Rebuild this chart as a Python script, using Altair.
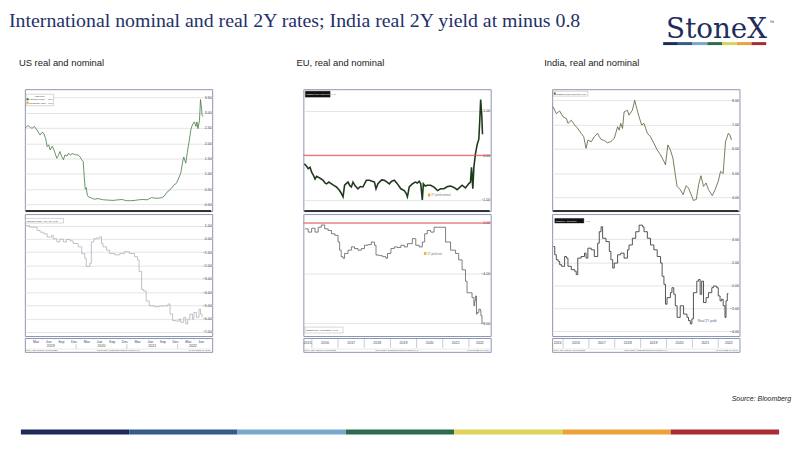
import altair as alt
import pandas as pd

# ---------------- text ----------------
TITLE = "International nominal and real 2Y rates; India real 2Y yield at minus 0.8"
COL_TITLES = ["US real and nominal", "EU, real and nominal", "India, real and nominal"]
SOURCE = "Source: Bloomberg"
LOGO = "StoneX"
BAR_SEGS = ["s1", "s2", "s3", "s4", "s5", "s6", "s7"]
BAR_COLORS = ["#1f2a5c", "#345b8a", "#78a8c9", "#2b6b4f", "#dcd35a", "#eaa33a", "#a82c34"]

# ---------------- US (decimal years) ----------------
US_NOM_T = [2019.00, 2019.05, 2019.10, 2019.13, 2019.18, 2019.23, 2019.29, 2019.33, 2019.36, 2019.40,
            2019.43, 2019.46, 2019.49, 2019.53, 2019.55, 2019.58, 2019.62, 2019.65, 2019.68, 2019.72,
            2019.75, 2019.78, 2019.82, 2019.85, 2019.89, 2019.92, 2019.95, 2019.99,
            2020.04, 2020.08, 2020.11, 2020.14, 2020.16, 2020.18, 2020.20, 2020.22, 2020.24, 2020.30,
            2020.36, 2020.43, 2020.54, 2020.63, 2020.73, 2020.83, 2020.90,
            2021.00, 2021.07, 2021.15, 2021.23, 2021.32, 2021.40, 2021.48, 2021.53, 2021.60, 2021.69,
            2021.74, 2021.79, 2021.83, 2021.88, 2021.93, 2021.97, 2021.99,
            2022.03, 2022.06, 2022.10, 2022.12, 2022.16, 2022.19, 2022.23, 2022.26, 2022.29, 2022.33,
            2022.36, 2022.38, 2022.40, 2022.43, 2022.45, 2022.47, 2022.48, 2022.50]
US_NOM_V = [2.50, 2.58, 2.52, 2.49, 2.55, 2.43, 2.27, 2.36, 2.33, 2.15,
            1.89, 1.95, 1.78, 1.90, 1.84, 1.70, 1.51, 1.60, 1.73, 1.55,
            1.46, 1.62, 1.58, 1.67, 1.62, 1.66, 1.65, 1.62,
            1.62, 1.55, 1.46, 1.40, 0.90, 0.50, 0.55, 0.30, 0.25, 0.21,
            0.17, 0.19, 0.15, 0.14, 0.13, 0.15, 0.16,
            0.12, 0.12, 0.13, 0.15, 0.16, 0.15, 0.22, 0.21, 0.20, 0.22,
            0.28, 0.40, 0.45, 0.53, 0.64, 0.68, 0.74,
            0.90, 1.02, 1.40, 1.55, 1.35, 1.70, 2.10, 2.45, 2.60, 2.70,
            2.55, 2.70, 2.48, 2.75, 3.43, 3.15, 2.92, 2.87]
US_REAL_T = [2019.00, 2019.08, 2019.23, 2019.29, 2019.36, 2019.43, 2019.49, 2019.52, 2019.55, 2019.62,
             2019.68, 2019.75, 2019.81, 2019.88, 2019.94,
             2020.04, 2020.11, 2020.17, 2020.20, 2020.27, 2020.30, 2020.35, 2020.40, 2020.47, 2020.50,
             2020.53, 2020.60, 2020.66, 2020.76, 2020.86, 2020.95,
             2021.05, 2021.15, 2021.21, 2021.24, 2021.29, 2021.33, 2021.38, 2021.44, 2021.54, 2021.64,
             2021.73, 2021.81, 2021.85, 2021.90, 2021.96,
             2022.03, 2022.06, 2022.12, 2022.16, 2022.20, 2022.24, 2022.29, 2022.32, 2022.37, 2022.42,
             2022.45, 2022.48]
US_REAL_V = [1.00, 0.88, 0.63, 0.50, 0.38, 0.14, 0.14, 0.26, 0.01, -0.23,
             -0.03, -0.23, -0.05, -0.15, -0.35,
             -0.60, -1.10, -1.46, -2.08, -1.83, -0.23, 0.01, 0.06, 0.14, -0.35,
             -0.60, -0.85, -1.10, -1.20, -1.10, -0.97,
             -1.10, -1.34, -1.60, -2.45, -3.80, -3.92, -4.67, -5.03, -5.10, -5.05,
             -5.03, -4.90, -5.65, -6.14, -6.18,
             -6.02, -6.27, -5.90, -6.40, -6.03, -5.66, -6.03, -5.54, -5.90, -5.28,
             -5.66, -5.90]

# ---------------- EU ----------------
EU_NOM_T = [2015.71, 2015.79, 2015.86, 2015.93, 2015.99, 2016.06, 2016.12, 2016.18, 2016.24, 2016.33,
            2016.43, 2016.50, 2016.56, 2016.65, 2016.75, 2016.85, 2016.94, 2017.00, 2017.06, 2017.12,
            2017.19, 2017.25, 2017.32, 2017.38, 2017.45, 2017.51, 2017.57, 2017.66, 2017.76, 2017.85,
            2017.95, 2018.08, 2018.20, 2018.30, 2018.39, 2018.45, 2018.52, 2018.58, 2018.67, 2018.77,
            2018.87, 2018.96, 2019.05, 2019.15, 2019.27, 2019.40, 2019.53, 2019.60, 2019.65, 2019.72,
            2019.84, 2019.95, 2020.03, 2020.10, 2020.16, 2020.22, 2020.26, 2020.33, 2020.41, 2020.54,
            2020.68, 2020.80, 2020.92, 2021.05, 2021.18, 2021.30, 2021.43, 2021.55, 2021.65, 2021.74,
            2021.87, 2021.99, 2022.06, 2022.10, 2022.15, 2022.19, 2022.25, 2022.32, 2022.38, 2022.42,
            2022.45, 2022.49, 2022.52]
EU_NOM_V = [-0.19, -0.24, -0.30, -0.27, -0.38, -0.45, -0.53, -0.47, -0.49, -0.52,
            -0.56, -0.62, -0.64, -0.60, -0.64, -0.68, -0.71, -0.75, -0.79, -0.85,
            -0.93, -0.67, -0.63, -0.60, -0.68, -0.71, -0.60, -0.69, -0.75, -0.70,
            -0.71, -0.56, -0.56, -0.58, -0.60, -0.75, -0.64, -0.60, -0.55, -0.56,
            -0.60, -0.64, -0.58, -0.56, -0.64, -0.75, -0.79, -0.85, -0.93, -0.71,
            -0.64, -0.60, -0.62, -0.58, -0.64, -1.00, -0.64, -0.69, -0.67, -0.67,
            -0.72, -0.79, -0.75, -0.75, -0.70, -0.69, -0.72, -0.77, -0.72, -0.67,
            -0.73, -0.64, -0.60, -0.27, -0.75, -0.27, 0.03, 0.25, 0.36, 0.84,
            1.25, 0.92, 0.47]
EU_REAL_T = [2015.74, 2015.86, 2015.99, 2016.12, 2016.24, 2016.36, 2016.49, 2016.62, 2016.75, 2016.88,
             2017.00, 2017.06, 2017.12, 2017.19, 2017.25, 2017.38, 2017.51, 2017.63, 2017.76, 2017.89,
             2018.01, 2018.14, 2018.27, 2018.39, 2018.45, 2018.58, 2018.70, 2018.83, 2018.89, 2019.02,
             2019.15, 2019.27, 2019.40, 2019.53, 2019.65, 2019.84, 2019.97, 2020.10, 2020.22, 2020.31,
             2020.41, 2020.54, 2020.67, 2020.80, 2021.05, 2021.11, 2021.30, 2021.49, 2021.61, 2021.74,
             2021.87, 2021.93, 2022.06, 2022.12, 2022.19, 2022.22, 2022.25, 2022.29, 2022.32, 2022.38,
             2022.44, 2022.46, 2022.50]
EU_REAL_V = [-0.47, -0.73, -0.42, -0.73, -0.34, -0.16, -0.47, -0.60, -0.86, -0.99,
             -1.52, -2.17, -2.69, -2.82, -2.43, -2.17, -1.91, -2.04, -2.17, -2.04,
             -1.78, -1.73, -1.52, -1.78, -2.56, -2.61, -2.69, -2.82, -2.43, -2.04,
             -1.91, -1.96, -1.78, -1.91, -1.65, -1.25, -1.78, -1.91, -1.52, -0.86,
             -0.60, -0.73, -0.34, -0.34, -0.34, -1.52, -2.17, -2.43, -2.95, -3.74,
             -4.65, -5.57, -5.57, -5.96, -6.61, -6.22, -5.83, -7.27, -7.14, -6.88,
             -7.01, -7.40, -8.05]

# ---------------- India ----------------
IN_NOM_T = [2015.62, 2015.74, 2015.87, 2016.00, 2016.13, 2016.19, 2016.32, 2016.45, 2016.57, 2016.70,
            2016.80, 2016.89, 2016.96, 2017.09, 2017.21, 2017.34, 2017.40, 2017.47, 2017.60, 2017.72,
            2017.85, 2017.98, 2018.11, 2018.17, 2018.23, 2018.30, 2018.36, 2018.49, 2018.55, 2018.68,
            2018.77, 2018.85, 2018.94, 2019.04, 2019.13, 2019.26, 2019.38, 2019.51, 2019.64, 2019.77,
            2019.90, 2019.96, 2020.05, 2020.15, 2020.25, 2020.34, 2020.41, 2020.53, 2020.64, 2020.76,
            2020.85, 2020.98, 2021.04, 2021.15, 2021.24, 2021.33, 2021.43, 2021.53, 2021.62, 2021.77,
            2021.88, 2022.00, 2022.09, 2022.19, 2022.28, 2022.39, 2022.45, 2022.51]
IN_NOM_V = [7.73, 7.45, 7.56, 7.32, 7.25, 7.05, 7.18, 6.98, 6.84, 6.64,
            6.50, 6.02, 6.36, 6.29, 6.50, 6.64, 6.50, 6.39, 6.34, 6.25,
            6.30, 6.43, 6.91, 6.77, 7.05, 6.84, 7.52, 7.59, 7.39, 7.59,
            8.00, 7.66, 7.32, 6.98, 7.05, 6.64, 6.50, 6.23, 5.95, 5.75,
            5.48, 5.34, 6.16, 5.95, 5.61, 4.93, 4.45, 4.32, 4.11, 4.48,
            4.38, 4.04, 3.87, 3.91, 4.52, 4.89, 4.45, 4.59, 4.32, 4.07,
            4.32, 4.66, 5.07, 4.98, 6.29, 6.64, 6.57, 6.36]
IN_REAL_T = [2015.62, 2015.68, 2015.74, 2015.81, 2015.87, 2015.94, 2016.06, 2016.13, 2016.19, 2016.32,
             2016.45, 2016.51, 2016.57, 2016.70, 2016.83, 2016.89, 2016.96, 2017.09, 2017.21, 2017.34,
             2017.40, 2017.47, 2017.53, 2017.66, 2017.79, 2017.85, 2017.92, 2017.98, 2018.11, 2018.23,
             2018.36, 2018.49, 2018.55, 2018.68, 2018.81, 2018.94, 2019.07, 2019.13, 2019.26, 2019.38,
             2019.51, 2019.64, 2019.77, 2019.83, 2019.90, 2019.96, 2020.02, 2020.15, 2020.21, 2020.28,
             2020.34, 2020.41, 2020.53, 2020.66, 2020.79, 2020.85, 2020.92, 2020.98, 2021.04, 2021.17,
             2021.24, 2021.30, 2021.36, 2021.43, 2021.53, 2021.62, 2021.75, 2021.81, 2021.94, 2022.00,
             2022.07, 2022.13, 2022.19, 2022.26, 2022.30, 2022.35, 2022.39]
IN_REAL_V = [3.37, 2.66, 2.23, 2.09, 1.80, 1.66, 2.51, 2.37, 1.66, 1.37,
             1.23, 0.94, 2.37, 2.51, 2.80, 2.37, 3.23, 3.09, 2.51, 3.66,
             4.66, 5.09, 4.09, 3.80, 2.94, 2.23, 1.51, 1.94, 2.66, 2.80,
             2.37, 3.09, 3.51, 4.09, 4.66, 5.23, 5.09, 4.66, 4.09, 3.51,
             3.09, 2.51, 1.94, 0.80, 0.09, -1.63, -1.06, -0.63, -0.20, -0.77,
             -1.77, -2.77, -1.77, -2.49, -2.77, -3.06, -3.34, -2.91, -0.63, 0.37,
             0.51, -0.77, 0.37, -1.49, -1.06, -0.63, -0.20, -0.06, -0.20, -0.91,
             -1.34, -1.20, -1.77, -2.77, -1.34, -0.71, -0.71]

# ---------------- axis ticks / labels ----------------
US_Y_TOP = [0.0, 0.5, 1.0, 1.5, 2.0, 2.5, 3.0, 3.5]
US_Y_BOT = [1, 0, -1, -2, -3, -4, -5, -6, -7]
EU_Y_TOP = [-1.0, -0.5, 0.0, 0.5, 1.0]
EU_Y_BOT = [0, -1, -2, -3, -4, -5, -6, -7, -8]
IN_Y_TOP = [4, 5, 6, 7, 8]
IN_Y_BOT = [-4, -2, 0, 2, 4]

US_MONTH_T = [2019.21, 2019.46, 2019.71, 2019.96, 2020.21, 2020.46, 2020.71, 2020.96,
              2021.21, 2021.46, 2021.71, 2021.96, 2022.21, 2022.46]
US_MONTH_L = ["Mar", "Jun", "Sep", "Dec", "Mar", "Jun", "Sep", "Dec",
              "Mar", "Jun", "Sep", "Dec", "Mar", "Jun"]
US_TICK_T = [2019.33, 2019.58, 2019.83, 2020.08, 2020.33, 2020.58, 2020.83, 2021.08,
             2021.33, 2021.58, 2021.83, 2022.08, 2022.33, 2022.58]
US_YEAR_T = [2019.5, 2020.5, 2021.5, 2022.3]
US_YEAR_L = ["2019", "2020", "2021", "2022"]
US_SEP_T = [2020.0, 2021.0, 2022.0]
EU_YEAR_T = [2015.84, 2016.5, 2017.5, 2018.5, 2019.5, 2020.5, 2021.5, 2022.42]
IN_YEAR_T = [2015.79, 2016.5, 2017.5, 2018.5, 2019.5, 2020.5, 2021.5, 2022.41]
YEAR_L8 = ["2015", "2016", "2017", "2018", "2019", "2020", "2021", "2022"]
SEP_T8 = [2016.0, 2017.0, 2018.0, 2019.0, 2020.0, 2021.0, 2022.0]
FOOT_TXT = ["Daily 02JAN2019-01JUL2022", "Copyright\u00a9 2022 Bloomberg Finance L.P.", "01-Jul-2022 10:45:37"]

# ---------------- layout ----------------
W = 189
H_TOP = 123
H_BOT = 123
H_STRIP = 14
FONT = "Liberation Sans"
ONE = pd.DataFrame({"a": [0]})
BOX = alt.ViewBackground(stroke="#8d95b3", strokeWidth=1)
NOBOX = alt.ViewBackground(stroke="transparent")


def yaxis(vals):
    return alt.Axis(orient="right", values=vals, format=".2f", grid=True, gridColor="#d9d9d9",
                    gridWidth=0.7, domain=False, ticks=False, tickSize=0, labelFontSize=3.6,
                    labelColor="#444444", labelFont=FONT, labelPadding=-1, labelAlign="right",
                    labelOverlap=False, minExtent=0, title=None)


def rect(x0, y0, x1, y1, fill, stroke="#9a9a9a", sw=0.4):
    return alt.Chart(ONE).mark_rect(fill=fill, stroke=stroke, strokeWidth=sw).encode(
        x=alt.value(x0), x2=alt.value(x1), y=alt.value(y0), y2=alt.value(y1))


def label(txt, x, y, size, color, align="left", font=FONT, **kw):
    return alt.Chart(ONE).mark_text(text=txt, fontSize=size, color=color, align=align,
                                    baseline="middle", font=font, **kw).encode(
        x=alt.value(x), y=alt.value(y))


def hrule(y, x0, x1, color, sw):
    return alt.Chart(ONE).mark_rule(color=color, strokeWidth=sw).encode(
        x=alt.value(x0), x2=alt.value(x1), y=alt.value(y))


def zero_rule():
    return alt.Chart(ONE).mark_rule(color="#e8525a", strokeWidth=1).encode(y=alt.datum(0))


def panel(t, v, xdom, ydom, yvals, color, sw, interp, h, extras):
    df = pd.DataFrame({"t": t, "v": v})
    line = alt.Chart(df).mark_line(color=color, strokeWidth=sw, interpolate=interp, clip=True).encode(
        x=alt.X("t:Q", scale=alt.Scale(domain=xdom, nice=False, zero=False), axis=None),
        y=alt.Y("v:Q", scale=alt.Scale(domain=ydom, nice=False, zero=False), axis=yaxis(yvals)),
    )
    return alt.layer(line, *extras).properties(width=W, height=h, view=BOX)


def strip(xdom, rows, seps, sep_y, ticks=None):
    xs = alt.Scale(domain=xdom, nice=False, zero=False)
    layers = []
    for tt, ll, yy in rows:
        df = pd.DataFrame({"t": tt, "l": ll})
        layers.append(alt.Chart(df).mark_text(fontSize=3.6, color="#444444", font=FONT,
                                              baseline="middle").encode(
            x=alt.X("t:Q", scale=xs, axis=None), y=alt.value(yy), text="l:N"))
    sdf = pd.DataFrame({"t": seps})
    layers.append(alt.Chart(sdf).mark_rule(color="#9a9a9a", strokeWidth=0.5).encode(
        x=alt.X("t:Q", scale=xs, axis=None), y=alt.value(sep_y[0]), y2=alt.value(sep_y[1])))
    if ticks is not None:
        tdf = pd.DataFrame({"t": ticks})
        layers.append(alt.Chart(tdf).mark_rule(color="#9a9a9a", strokeWidth=0.5).encode(
            x=alt.X("t:Q", scale=xs, axis=None), y=alt.value(0), y2=alt.value(1.6)))
    layers.append(hrule(11.2, 1, W - 1, "#c8c8c8", 0.4))
    layers.append(label(FOOT_TXT[0], 1.5, 12.6, 2.4, "#666666"))
    layers.append(label(FOOT_TXT[1], W / 2, 12.6, 2.4, "#666666", align="center"))
    layers.append(label(FOOT_TXT[2], W - 1.5, 12.6, 2.4, "#666666", align="right"))
    return alt.layer(*layers).properties(width=W, height=H_STRIP, view=BOX)


SEP = hrule(H_TOP, 1, W - 1, "#333333", 2)
ORANGE = "#f0a020"

# ---------------- US column ----------------
US_X = [2018.99, 2022.68]
us_top = panel(US_NOM_T, US_NOM_V, US_X, [-0.22, 3.77], US_Y_TOP, "#3f7a43", 0.8, "linear", H_TOP, [
    rect(1.3, 5, 29, 16.7, "white"),
    label("Last Price", 15, 7, 2.3, "#333333", align="center"),
    rect(2, 9.2, 3.6, 11, "#3f7a43", stroke="#3f7a43"),
    label("USGG2YR Index", 4.5, 10.1, 2.1, "#333333"),
    label("2.91", 28, 10.1, 2.1, "#333333", align="right"),
    rect(2, 12.8, 3.6, 14.6, ORANGE, stroke=ORANGE),
    label("USGGT02Y Index", 4.5, 13.7, 2.1, "#333333"),
    label("-5.90", 28, 13.7, 2.1, "#333333", align="right"),
    SEP,
])
us_bot = panel(US_REAL_T, US_REAL_V, US_X, [-7.3, 1.86], US_Y_BOT, "#aeb2be", 0.8, "step-after", H_BOT, [
    rect(0.7, 4.4, 39, 9, "white"),
    label("USGG2YR Index - CPI YOY  -5.90", 1.6, 6.7, 2.1, "#333333"),
])
us_strip = strip(US_X, [(US_MONTH_T, US_MONTH_L, 4.0), (US_YEAR_T, US_YEAR_L, 8.6)],
                 US_SEP_T, (6.2, 11.0), US_TICK_T)
us_col = alt.vconcat(us_top, us_bot, us_strip, spacing=0)

# ---------------- EU column ----------------
EU_X = [2015.674, 2022.833]
eu_top = panel(EU_NOM_T, EU_NOM_V, EU_X, [-1.25, 1.48], EU_Y_TOP, "#1f3a1c", 1.6, "linear", H_TOP, [
    zero_rule(),
    rect(2, 2, 27, 8, "#111111", stroke="#111111"),
    label("GDBR2 Index  Last Price", 3, 5, 2.2, "white"),
    label("0.47", 28.5, 5, 2.2, "#666666"),
    rect(126, 105.5, 127.8, 108, ORANGE, stroke=ORANGE),
    label("2Y yield nominal", 129, 107, 2.7, "#777777"),
    SEP,
])
eu_bot = panel(EU_REAL_T, EU_REAL_V, EU_X, [-9.02, 0.71], EU_Y_BOT, "#5e5e5e", 0.8, "step-after", H_BOT, [
    zero_rule(),
    rect(122, 38.5, 123.8, 41, ORANGE, stroke=ORANGE),
    label("2Y yield real", 125, 40, 2.7, "#777777"),
    rect(1.7, 114, 40, 120, "white"),
    label("GDBR2 Index - ECCPEMUY  -8.05", 2.6, 117, 2.1, "#333333"),
])
eu_strip = strip(EU_X, [(EU_YEAR_T, YEAR_L8, 5.0)], SEP_T8, (0, 10.0))
eu_col = alt.vconcat(eu_top, eu_bot, eu_strip, spacing=0)

# ---------------- India column ----------------
IN_X = [2015.579, 2022.82]
in_top = panel(IN_NOM_T, IN_NOM_V, IN_X, [3.43, 8.46], IN_Y_TOP, "#4f6131", 0.8, "linear", H_TOP, [
    rect(1, 2, 36, 7, "white"),
    rect(2, 3.6, 3.4, 5.4, "#4f6131", stroke="#4f6131"),
    label("GIND2YR Index  Last Price 6.36", 4.2, 4.5, 2.1, "#333333"),
    SEP,
])
in_bot = panel(IN_REAL_T, IN_REAL_V, IN_X, [-4.39, 6.19], IN_Y_BOT, "#404040", 0.9, "step-after", H_BOT, [
    rect(2.7, 4.4, 32, 9, "#111111", stroke="#111111"),
    label("GIND2YR - INFUTOTY", 3.5, 6.7, 2.1, "white"),
    label("-0.71", 33.5, 6.7, 2.1, "#666666"),
    label("Real 2Y yield", 147, 108, 3.2, "#4a5f95"),
])
in_strip = strip(IN_X, [(IN_YEAR_T, YEAR_L8, 5.0)], SEP_T8, (0, 10.0))
in_col = alt.vconcat(in_top, in_bot, in_strip, spacing=0)

# ---------------- header / footer ----------------
bar_df = pd.DataFrame({"seg": BAR_SEGS})


def color_bar(x0, x1, y0, y1):
    return alt.Chart(bar_df).mark_rect().encode(
        x=alt.X("seg:N", sort=BAR_SEGS, axis=None,
                scale=alt.Scale(range=[x0, x1], paddingInner=0, paddingOuter=0)),
        y=alt.value(y0), y2=alt.value(y1),
        color=alt.Color("seg:N", sort=BAR_SEGS, legend=None,
                        scale=alt.Scale(domain=BAR_SEGS, range=BAR_COLORS)),
    )


NAVY = "#24306a"
header = alt.layer(
    alt.Chart(ONE).mark_text(text=TITLE, fontSize=20, color=NAVY, align="left",
                             baseline="top", font="Liberation Serif").encode(
        x=alt.value(0), y=alt.value(0)),
    alt.Chart(ONE).mark_text(text=LOGO, fontSize=28, color="#1f2d5a", align="left",
                             baseline="alphabetic", font="DejaVu Serif").encode(
        x=alt.value(663), y=alt.value(27)),
    label("\u2122", 767, 11, 5, "#1f2d5a"),
    color_bar(660, 764, 31.5, 34.5),
    label(COL_TITLES[0], 10, 53, 9.5, "#1a1a1a"),
    label(COL_TITLES[1], 290, 53, 9.5, "#1a1a1a"),
    label(COL_TITLES[2], 540, 53, 9.5, "#1a1a1a"),
).properties(width=784, height=77, view=NOBOX)

footer = alt.layer(
    alt.Chart(ONE).mark_text(text=SOURCE, fontSize=7, color="#222222", align="right",
                             baseline="alphabetic", font=FONT, fontStyle="italic").encode(
        x=alt.value(789), y=alt.value(47.5)),
    color_bar(12, 777, 76.3, 81.3),
).properties(width=784, height=82, view=NOBOX)

spacer = alt.Chart(ONE).mark_point(size=0, opacity=0).encode(
    x=alt.value(4), y=alt.value(0.5)).properties(width=8, height=1, view=NOBOX)

body = alt.hconcat(alt.hconcat(spacer, us_col, spacing=6),
                   alt.hconcat(eu_col, in_col, spacing=60), spacing=90)

chart = alt.vconcat(header, body, footer, spacing=0).properties(
    padding=0, background="white").configure(font=FONT)

chart.save("out.html", embed_options={"renderer": "svg", "actions": False})
